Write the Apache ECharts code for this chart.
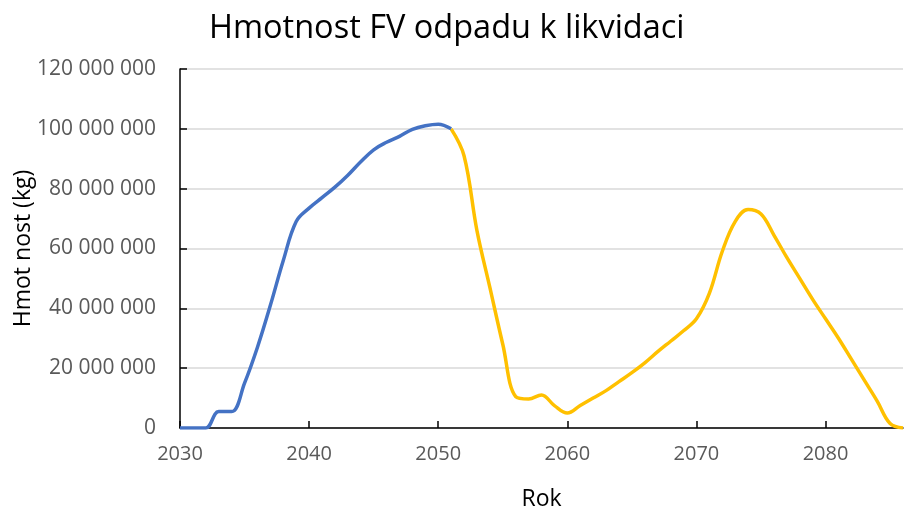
<!DOCTYPE html>
<html>
<head>
<meta charset="utf-8">
<script src="https://cdn.jsdelivr.net/npm/echarts@6/dist/echarts.min.js"></script>
<style>
  html, body { margin: 0; padding: 0; background: #fff; }
  #graf { width: 905px; height: 510px; }
</style>
</head>
<body>
<div id="graf"></div>
<script>
// roky a hmotnosti (kg)
const rokyModra = [2030, 2031, 2032, 2033, 2034, 2035, 2036, 2037, 2038, 2039, 2040,
  2041, 2042, 2043, 2044, 2045, 2046, 2047, 2048, 2049, 2050, 2051];
const hmotnostModra = [0, 0, 0, 5500000, 5500000, 15000000, 27000000, 41000000, 56000000, 69000000, 73500000,
  77000000, 80500000, 84500000, 89000000, 93000000, 95500000, 97500000, 99800000, 101000000, 101500000, 100000000];

const rokyZluta = [2051, 2052, 2053, 2054, 2055, 2056, 2057, 2058, 2059, 2060,
  2061, 2062, 2063, 2064, 2065, 2066, 2067, 2068, 2069, 2070,
  2071, 2072, 2073, 2074, 2075, 2076, 2077, 2078, 2079, 2080,
  2081, 2082, 2083, 2084, 2085, 2086];
const hmotnostZluta = [100000000, 91000000, 66000000, 47000000, 28000000, 10500000, 9700000, 11000000, 7500000, 5000000,
  7500000, 10000000, 12500000, 15500000, 18500000, 21800000, 25500000, 29000000, 32500000, 36500000,
  45000000, 59000000, 69000000, 73000000, 71500000, 64500000, 57000000, 50000000, 43000000, 36500000,
  30000000, 23000000, 16000000, 9000000, 1500000, 0];

const rokyPopisky = [2030, 2040, 2050, 2060, 2070, 2080];

const pismo = '"Open Sans", sans-serif';

function formatTisice(v) {
  return String(v).replace(/\B(?=(\d{3})+(?!\d))/g, ' ');
}

const graf = echarts.init(document.getElementById('graf'));

const option = {
  animation: false,
  title: {
    text: 'Hmotnost FV odpadu k likvidaci',
    left: 204,
    top: 7,
    textStyle: { fontFamily: pismo, fontSize: 32.5, fontWeight: 'normal', color: '#000' }
  },
  grid: { left: 180, right: 2, top: 69, bottom: 82, outerBoundsMode: 'none', containLabel: false },
  xAxis: {
    type: 'value',
    min: 2030,
    max: 2086,
    interval: 10,
    name: 'Rok',
    nameLocation: 'middle',
    nameGap: 60,
    nameMoveOverlap: false,
    nameTextStyle: { fontFamily: pismo, fontSize: 23, color: '#000' },
    axisLine: { lineStyle: { color: '#000', width: 1.5 } },
    axisTick: { show: true, inside: true, length: 7, lineStyle: { color: '#000', width: 1.5 }, customValues: rokyPopisky },
    axisLabel: { fontFamily: pismo, fontSize: 20, color: '#595959', margin: 16, customValues: rokyPopisky, formatter: v => String(v) },
    splitLine: { show: false }
  },
  yAxis: {
    type: 'value',
    min: 0,
    max: 120000000,
    interval: 20000000,
    name: 'Hmot nost (kg)',
    nameLocation: 'middle',
    nameGap: 145,
    nameMoveOverlap: false,
    nameTextStyle: { fontFamily: pismo, fontSize: 23, color: '#000' },
    axisLine: { show: true, lineStyle: { color: '#000', width: 1.5 } },
    axisTick: { show: true, inside: true, length: 7, lineStyle: { color: '#000', width: 1.5 } },
    axisLabel: { fontFamily: pismo, fontSize: 21, color: '#595959', margin: 24, formatter: formatTisice },
    splitLine: { lineStyle: { color: '#d9d9d9', width: 1.5 } }
  },
  series: [
    {
      type: 'line',
      data: rokyModra.map((r, i) => [r, hmotnostModra[i]]),
      smooth: 0.38,
      showSymbol: false,
      lineStyle: { color: '#4472C4', width: 3.5 },
      z: 3
    },
    {
      type: 'line',
      data: rokyZluta.map((r, i) => [r, hmotnostZluta[i]]),
      smooth: 0.38,
      showSymbol: false,
      lineStyle: { color: '#FFC000', width: 3.5 },
      z: 2
    }
  ]
};

graf.setOption(option);
</script>
</body>
</html>
